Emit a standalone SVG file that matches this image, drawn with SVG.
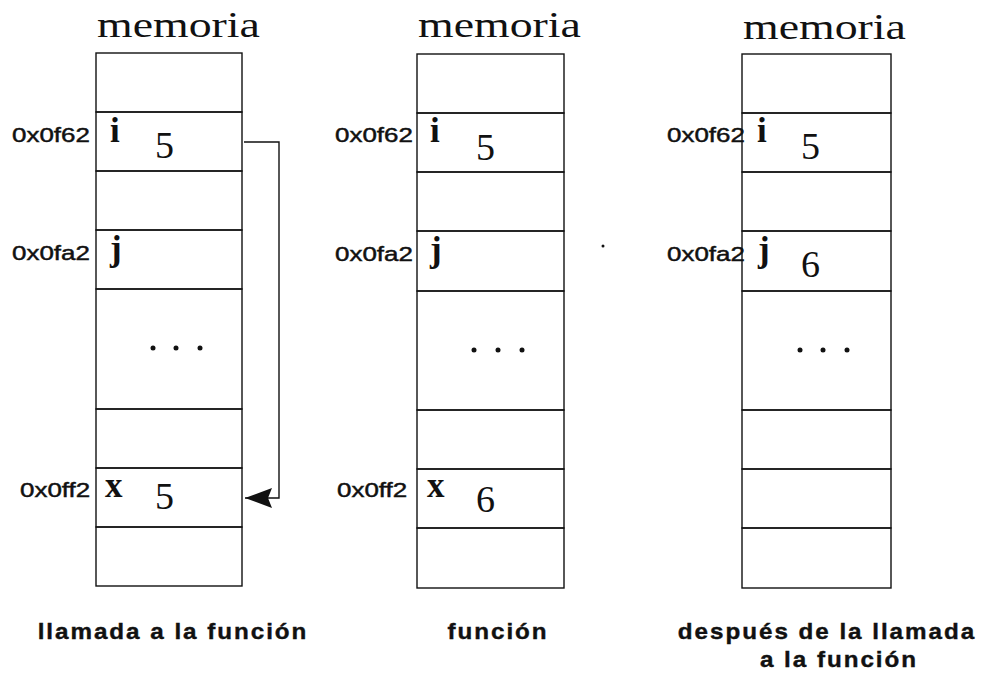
<svg xmlns="http://www.w3.org/2000/svg" width="987" height="684" viewBox="0 0 987 684">
<style>
.cell{fill:none;stroke:#111;stroke-width:1.4}
.title{font-family:"Liberation Serif","Times New Roman",serif;font-size:35px;fill:#111}
.addr{font-family:"Liberation Sans",Arial,sans-serif;font-size:19.5px;fill:#111;stroke:#111;stroke-width:0.45}
.var{font-family:"Liberation Serif","Times New Roman",serif;font-size:35px;font-weight:bold;fill:#111}
.val{font-family:"Liberation Serif","Times New Roman",serif;font-size:38px;fill:#111}
.cap{font-family:"Liberation Sans",Arial,sans-serif;font-size:22px;font-weight:bold;letter-spacing:1.8px;fill:#111;stroke:#111;stroke-width:0.4;text-anchor:middle}
.dot{fill:#111}
.conn{fill:none;stroke:#111;stroke-width:1.4}
</style>
<defs>
<marker id="arrow" viewBox="0 0 27 20" refX="27" refY="10" markerWidth="27" markerHeight="20" markerUnits="userSpaceOnUse" orient="auto">
<path d="M0,0 L27,10 L0,20 L4,10 Z" fill="#111"/>
</marker>
</defs>
<rect width="987" height="684" fill="#fff"/>

<g id="col-llamada">
<text class="title" transform="translate(97,37) scale(1.31,1)">memoria</text>
<g id="l-c0"><rect class="cell" x="96" y="53" width="146" height="59"/></g>
<g id="l-i"><rect class="cell" x="96" y="112" width="146" height="59"/>
<text class="addr" transform="translate(12,142) scale(1.33,1)">0x0f62</text><text class="var" x="110" y="142">i</text><text class="val" x="155" y="158">5</text></g>
<g id="l-c2"><rect class="cell" x="96" y="171" width="146" height="59"/></g>
<g id="l-j"><rect class="cell" x="96" y="230" width="146" height="59"/>
<text class="addr" transform="translate(12,260) scale(1.33,1)">0x0fa2</text><text class="var" x="110" y="260">j</text></g>
<g id="l-dots"><rect class="cell" x="96" y="289" width="146" height="120"/>
<circle class="dot" cx="153" cy="348" r="2.5"/><circle class="dot" cx="176" cy="348" r="2.5"/><circle class="dot" cx="200" cy="348" r="2.5"/></g>
<g id="l-c5"><rect class="cell" x="96" y="409" width="146" height="59"/></g>
<g id="l-x"><rect class="cell" x="96" y="468" width="146" height="59"/>
<text class="addr" transform="translate(20,497) scale(1.33,1)">0x0ff2</text><text class="var" x="105" y="497">x</text><text class="val" x="155" y="509">5</text></g>
<g id="l-c7"><rect class="cell" x="96" y="527" width="146" height="59"/></g>
<text class="cap" transform="translate(173,639) scale(1.1,1)">llamada a la función</text>
</g>

<g id="col-funcion">
<text class="title" transform="translate(418,37) scale(1.31,1)">memoria</text>
<g id="m-c0"><rect class="cell" x="417" y="54" width="147" height="59"/></g>
<g id="m-i"><rect class="cell" x="417" y="113" width="147" height="59"/>
<text class="addr" transform="translate(335,142) scale(1.33,1)">0x0f62</text><text class="var" x="430" y="142">i</text><text class="val" x="476" y="160">5</text></g>
<g id="m-c2"><rect class="cell" x="417" y="172" width="147" height="59"/></g>
<g id="m-j"><rect class="cell" x="417" y="231" width="147" height="60"/>
<text class="addr" transform="translate(335,261) scale(1.33,1)">0x0fa2</text><text class="var" x="430" y="261">j</text></g>
<g id="m-dots"><rect class="cell" x="417" y="291" width="147" height="119"/>
<circle class="dot" cx="474" cy="350" r="2.5"/><circle class="dot" cx="498" cy="350" r="2.5"/><circle class="dot" cx="522" cy="350" r="2.5"/></g>
<g id="m-c5"><rect class="cell" x="417" y="410" width="147" height="59"/></g>
<g id="m-x"><rect class="cell" x="417" y="469" width="147" height="59"/>
<text class="addr" transform="translate(337,497) scale(1.33,1)">0x0ff2</text><text class="var" x="427" y="497">x</text><text class="val" x="476" y="512">6</text></g>
<g id="m-c7"><rect class="cell" x="417" y="528" width="147" height="60"/></g>
<text class="cap" transform="translate(498,639) scale(1.1,1)">función</text>
</g>

<g id="col-despues">
<text class="title" transform="translate(743,39) scale(1.31,1)">memoria</text>
<g id="r-c0"><rect class="cell" x="742" y="54" width="149" height="59"/></g>
<g id="r-i"><rect class="cell" x="742" y="113" width="149" height="59"/>
<text class="addr" transform="translate(667,142) scale(1.33,1)">0x0f62</text><text class="var" x="757" y="142">i</text><text class="val" x="801" y="159">5</text></g>
<g id="r-c2"><rect class="cell" x="742" y="172" width="149" height="59"/></g>
<g id="r-j"><rect class="cell" x="742" y="231" width="149" height="60"/>
<text class="addr" transform="translate(667,261) scale(1.33,1)">0x0fa2</text><text class="var" x="758" y="261">j</text><text class="val" x="801" y="277">6</text></g>
<g id="r-dots"><rect class="cell" x="742" y="291" width="149" height="119"/>
<circle class="dot" cx="800" cy="350" r="2.5"/><circle class="dot" cx="823" cy="350" r="2.5"/><circle class="dot" cx="847" cy="350" r="2.5"/></g>
<g id="r-c5"><rect class="cell" x="742" y="410" width="149" height="59"/></g>
<g id="r-c6"><rect class="cell" x="742" y="469" width="149" height="59"/></g>
<g id="r-c7"><rect class="cell" x="742" y="528" width="149" height="60"/></g>
<text class="cap" transform="translate(827,639) scale(1.1,1)">después de la llamada</text>
<text class="cap" transform="translate(839,667) scale(1.1,1)">a la función</text>
</g>

<g id="connectors">
<path class="conn" d="M244,142 H279 V498 H245" marker-end="url(#arrow)"/>
</g>
<circle class="dot" cx="603" cy="246" r="1.5"/>
</svg>
